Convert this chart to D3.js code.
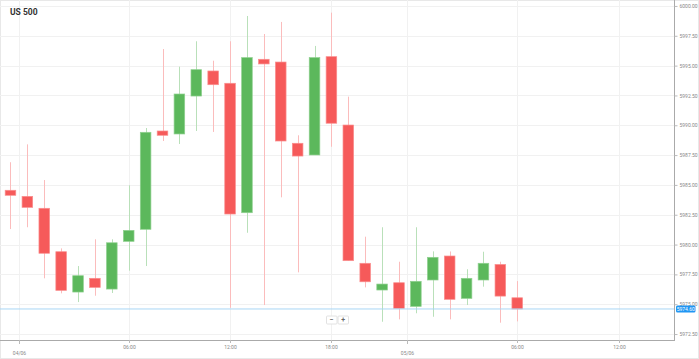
<!DOCTYPE html>
<html lang="en">

<head>
  <meta charset="UTF-8">
  <title>US 500</title>
  <script src="https://d3js.org/d3.v7.min.js"></script>
  <style>
    body {
      margin: 0;
      background-color: white;
      font-family: Roboto, 'Open Sans', sans-serif;
    }

    svg {
      display: block;
    }
  </style>
</head>

<body>
  <script>
    // hourly candles, index 0 = 03/06 23:00
    const opens = [5984.55, 5984.04, 5983.04, 5979.40, 5976.02, 5977.17, 5976.27, 5980.27, 5981.28, 5989.52,
      5989.27, 5992.45, 5994.55, 5993.52, 5982.67, 5995.53, 5995.30, 5988.49, 5987.51, 5995.75,
      5990.02, 5978.43, 5976.19, 5976.80, 5974.82, 5977.03, 5979.04, 5975.49, 5977.03, 5978.33, 5975.54];
    const highs = [5986.90, 5988.40, 5985.41, 5979.68, 5978.20, 5980.44, 5980.44, 5984.97, 5989.77, 5996.39,
      5994.91, 5997.04, 5995.41, 5997.04, 5999.16, 5997.65, 5998.66, 5989.16, 5996.65, 5999.44,
      5992.40, 5980.66, 5981.45, 5978.56, 5981.45, 5979.43, 5979.42, 5977.93, 5979.40, 5978.56, 5976.94];
    const lows = [5981.30, 5981.45, 5977.17, 5975.91, 5975.18, 5975.71, 5975.94, 5977.81, 5978.20, 5988.68,
      5988.43, 5989.52, 5989.44, 5974.70, 5980.99, 5974.93, 5983.96, 5977.67, 5987.51, 5988.20,
      5978.65, 5976.41, 5973.53, 5973.73, 5974.24, 5973.95, 5973.73, 5974.93, 5976.47, 5973.45, 5973.56];
    const closes = [5984.13, 5983.12, 5979.27, 5976.16, 5977.39, 5976.41, 5980.15, 5981.19, 5989.41, 5989.16,
      5992.62, 5994.66, 5993.40, 5982.56, 5995.67, 5995.14, 5988.68, 5987.42, 5995.67, 5990.17,
      5978.65, 5976.88, 5976.69, 5974.65, 5976.92, 5978.93, 5975.41, 5977.17, 5978.43, 5975.68, 5974.60];

    const lastPrice = 5974.60;

    // x axis ticks (candle index) and labels
    const tickPos = [0.5, 7, 13, 19, 23.5, 30, 36];
    const tickLabels = ["04/06", "06:00", "12:00", "18:00", "05/06", "06:00", "12:00"];
    const tickIsDate = [true, false, false, false, true, false, false];

    const yTicks = d3.range(5972.5, 6000.01, 2.5);

    const candles = opens.map((o, i) => ({ i, o, h: highs[i], l: lows[i], c: closes[i] }));

    const width = 699, height = 359;
    const plotRight = 674, plotBottom = 340;

    const svg = d3.select("body").append("svg")
      .attr("width", width)
      .attr("height", height);

    // outer frame
    svg.append("rect")
      .attr("x", 0.5).attr("y", 0.5)
      .attr("width", width - 1).attr("height", height - 1)
      .attr("fill", "white")
      .attr("stroke", "#e8e8e8");

    const x = d3.scaleLinear().domain([-0.62, 39.28]).range([0, plotRight]);
    const y = d3.scaleLinear().domain([5972.0, 6000.5]).range([plotBottom, 0]);
    const bodyW = 10.6;

    // grid
    svg.append("g").selectAll("line")
      .data(yTicks)
      .enter().append("line")
      .attr("x1", 0).attr("x2", plotRight)
      .attr("y1", d => Math.round(y(d)) + 0.5).attr("y2", d => Math.round(y(d)) + 0.5)
      .attr("stroke", "#f1f1f1");

    svg.append("g").selectAll("line")
      .data(tickPos)
      .enter().append("line")
      .attr("x1", d => Math.round(x(d)) + 0.5).attr("x2", d => Math.round(x(d)) + 0.5)
      .attr("y1", 0).attr("y2", plotBottom)
      .attr("stroke", "#f1f1f1");

    // title
    svg.append("text")
      .attr("x", 10).attr("y", 15)
      .attr("font-size", 8.5)
      .attr("font-weight", "bold")
      .attr("fill", "#333")
      .text("US 500");

    // wicks
    svg.append("g").selectAll("line")
      .data(candles)
      .enter().append("line")
      .attr("x1", d => Math.round(x(d.i)) + 0.5).attr("x2", d => Math.round(x(d.i)) + 0.5)
      .attr("y1", d => y(d.h)).attr("y2", d => y(d.l))
      .attr("stroke", d => d.c >= d.o ? "#b9e0b9" : "#fbbcbc")
      .attr("stroke-width", 1);

    // bodies
    svg.append("g").selectAll("rect")
      .data(candles)
      .enter().append("rect")
      .attr("x", d => x(d.i) - bodyW / 2)
      .attr("width", bodyW)
      .attr("y", d => y(Math.max(d.o, d.c)))
      .attr("height", d => Math.max(1, Math.abs(y(d.o) - y(d.c))))
      .attr("fill", d => d.c >= d.o ? "#5cb85c" : "#f65a5a")
      .attr("stroke", d => d.c >= d.o ? "#8fd08f" : "#fa8e8e")
      .attr("stroke-width", 0.7);

    // last price line
    svg.append("line")
      .attr("x1", 0).attr("x2", plotRight)
      .attr("y1", y(lastPrice)).attr("y2", y(lastPrice))
      .attr("stroke", "#a9d6f5")
      .attr("stroke-width", 1);

    // y axis on the right
    const yAxis = svg.append("g")
      .attr("transform", `translate(${plotRight + 0.5},0)`)
      .call(d3.axisRight(y).tickValues(yTicks).tickSize(3).tickPadding(2).tickFormat(d3.format(".2f")));
    yAxis.select(".domain").attr("stroke", "#aaa").attr("d", `M0,0V${plotBottom}`);
    yAxis.selectAll(".tick line").attr("stroke", "#bbb");
    yAxis.selectAll("text").attr("font-size", 5).attr("fill", "#888").attr("font-family", "Roboto, sans-serif");

    // price tag
    const tag = svg.append("g").attr("transform", `translate(${plotRight + 2},${y(lastPrice)})`);
    tag.append("rect")
      .attr("x", 0).attr("y", -3.6)
      .attr("width", 19.5).attr("height", 7.2)
      .attr("rx", 1.5)
      .attr("fill", "#2196f3");
    tag.append("text")
      .attr("x", 9.75).attr("y", 1.8)
      .attr("text-anchor", "middle")
      .attr("font-size", 5)
      .attr("fill", "white")
      .text(d3.format(".2f")(lastPrice));

    // x axis
    svg.append("line")
      .attr("x1", 0).attr("x2", plotRight + 1)
      .attr("y1", plotBottom + 0.5).attr("y2", plotBottom + 0.5)
      .attr("stroke", "#aaa");

    const xt = svg.append("g").selectAll("g")
      .data(tickPos)
      .enter().append("g")
      .attr("transform", d => `translate(${Math.round(x(d)) + 0.5},${plotBottom})`);
    xt.append("line")
      .attr("y1", 0).attr("y2", (d, i) => tickIsDate[i] ? 4 : 3)
      .attr("stroke", "#bbb");
    xt.append("text")
      .attr("y", (d, i) => tickIsDate[i] ? 14.5 : 8.5)
      .attr("text-anchor", "middle")
      .attr("font-size", 5)
      .attr("fill", "#888")
      .text((d, i) => tickLabels[i]);

    // zoom buttons
    const zb = svg.append("g").attr("transform", "translate(326,315.5)");
    ["−", "+"].forEach((s, k) => {
      zb.append("rect")
        .attr("x", k * 11.5 + 0.5).attr("y", 0.5)
        .attr("width", 10.5).attr("height", 8)
        .attr("rx", 1)
        .attr("fill", "white")
        .attr("stroke", "#e2e2e2");
      zb.append("text")
        .attr("x", k * 11.5 + 5.75).attr("y", 6.8)
        .attr("text-anchor", "middle")
        .attr("font-size", 7)
        .attr("font-weight", "bold")
        .attr("fill", "#666")
        .text(s);
    });
  </script>
</body>

</html>
